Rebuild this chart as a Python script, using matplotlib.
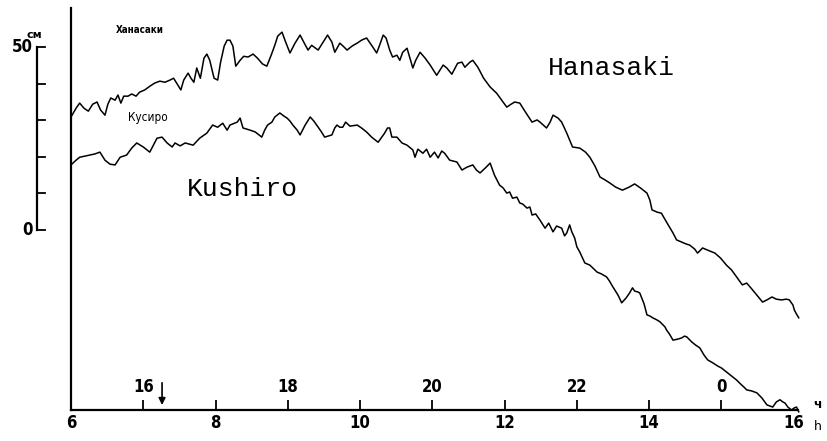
import matplotlib
matplotlib.use("Agg")
import matplotlib.pyplot as plt

# Мареограммы: Ханасаки и Кусиро (время в часах, уровень в см)
hanasaki_t = [
    6.00, 6.07, 6.12, 6.18, 6.24, 6.30, 6.36, 6.41, 6.47, 6.51, 6.55, 6.61, 6.65, 6.69,
    6.73, 6.79, 6.84, 6.90, 6.95, 7.02, 7.09, 7.16, 7.23, 7.30, 7.37, 7.42, 7.48, 7.52,
    7.56, 7.62, 7.66, 7.70, 7.74, 7.79, 7.84, 7.88, 7.92, 7.98, 8.03, 8.07, 8.12, 8.16,
    8.20, 8.24, 8.28, 8.34, 8.39, 8.45, 8.52, 8.58, 8.65, 8.71, 8.77, 8.82, 8.86, 8.92,
    8.97, 9.03, 9.10, 9.17, 9.22, 9.28, 9.33, 9.42, 9.49, 9.55, 9.61, 9.65, 9.72, 9.78,
    9.82, 9.89, 9.96, 10.02, 10.09, 10.16, 10.23, 10.27, 10.32, 10.36, 10.41, 10.45,
    10.51, 10.55, 10.59, 10.65, 10.69, 10.73, 10.77, 10.83, 10.90, 10.97, 11.06, 11.15,
    11.20, 11.27, 11.35, 11.41, 11.45, 11.52, 11.56, 11.63, 11.71, 11.80, 11.89, 11.96,
    12.03, 12.09, 12.14, 12.21, 12.29, 12.38, 12.45, 12.49, 12.58, 12.63, 12.67, 12.74,
    12.79, 12.86, 12.94, 13.04, 13.12, 13.18, 13.25, 13.32, 13.39, 13.46, 13.54, 13.63,
    13.72, 13.80, 13.88, 13.97, 14.01, 14.04, 14.11, 14.17, 14.24, 14.33, 14.38, 14.45,
    14.51, 14.56, 14.63, 14.67, 14.74, 14.81, 14.91, 14.99, 15.07, 15.14, 15.21, 15.29,
    15.35, 15.42, 15.49, 15.57, 15.63, 15.70, 15.76, 15.83, 15.90, 15.94, 15.99, 16.01,
    16.04, 16.07,
]
hanasaki_cm = [
    30.9, 33.3, 34.7, 33.3, 32.5, 34.4, 35.0, 32.8, 31.4, 34.4, 36.1, 35.5, 36.9, 34.7,
    36.6, 36.6, 37.2, 36.6, 37.7, 38.3, 39.3, 40.2, 40.7, 40.4, 41.0, 41.5, 39.6, 38.3,
    41.0, 42.9, 41.5, 40.4, 44.3, 41.5, 47.0, 48.1, 46.4, 41.5, 41.0, 45.9, 50.3, 51.9,
    51.9, 50.3, 44.8, 46.4, 47.5, 47.3, 48.1, 47.0, 45.4, 44.8, 47.8, 50.5, 53.0, 54.1,
    51.4, 48.4, 51.1, 53.3, 51.4, 49.2, 50.5, 49.2, 51.4, 53.3, 51.4, 48.6, 51.1, 50.0,
    49.2, 50.3, 51.1, 51.9, 52.5, 50.5, 48.4, 50.5, 53.3, 52.5, 49.2, 47.3,
    47.8, 46.4, 48.6, 49.7, 47.0, 44.3, 46.4, 48.6, 47.0, 45.1, 42.3, 45.1,
    44.3, 42.6, 45.6, 45.9, 44.5, 45.9, 46.4, 44.5, 41.5, 39.1, 37.4, 35.5,
    33.6, 34.4, 35.0, 34.7, 32.2, 29.5, 30.1, 29.5, 27.9, 29.5, 31.4, 30.6,
    29.5, 26.5, 22.7, 22.4, 21.3, 19.9, 17.5, 14.5, 13.7, 12.8, 11.7, 10.9,
    11.7, 12.6, 11.5, 10.1, 8.2, 5.5, 4.9, 4.6, 2.2, -0.8, -2.7, -3.3,
    -3.8, -4.1, -5.2, -6.3, -4.9, -5.5, -6.3, -7.7, -9.6, -10.9, -12.8, -15.0,
    -14.5, -16.1, -17.8, -19.7, -19.1, -18.3, -18.9, -19.1, -18.9, -19.1, -20.5, -21.9,
    -23.0, -24.0,
]

kushiro_t = [
    6.00, 6.07, 6.12, 6.19, 6.26, 6.33, 6.40, 6.47, 6.54, 6.61, 6.68, 6.77, 6.84, 6.91,
    7.00, 7.09, 7.19, 7.26, 7.33, 7.40, 7.44, 7.51, 7.58, 7.69, 7.78, 7.88, 7.96, 8.03,
    8.10, 8.16, 8.20, 8.30, 8.34, 8.38, 8.48, 8.55, 8.64, 8.68, 8.72, 8.78, 8.82, 8.89,
    8.95, 8.99, 9.03, 9.07, 9.13, 9.17, 9.24, 9.31, 9.36, 9.40, 9.46, 9.51, 9.61, 9.65,
    9.68, 9.72, 9.76, 9.80, 9.86, 9.96, 10.02, 10.09, 10.16, 10.25, 10.30, 10.34, 10.38,
    10.41, 10.44, 10.51, 10.58, 10.65, 10.73, 10.76, 10.80, 10.87, 10.92, 10.97, 11.03,
    11.08, 11.13, 11.17, 11.24, 11.34, 11.41, 11.48, 11.56, 11.61, 11.66, 11.73, 11.80,
    11.86, 11.93, 11.98, 12.03, 12.07, 12.11, 12.17, 12.21, 12.25, 12.31, 12.35, 12.38,
    12.43, 12.49, 12.56, 12.61, 12.67, 12.72, 12.79, 12.83, 12.86, 12.90, 12.93, 12.97,
    13.00, 13.04, 13.11, 13.18, 13.28, 13.34, 13.41, 13.45, 13.50, 13.57, 13.62, 13.68,
    13.73, 13.77, 13.80, 13.84, 13.87, 13.93, 13.97, 14.01, 14.05, 14.11, 14.15, 14.22,
    14.24, 14.28, 14.33, 14.40, 14.45, 14.49, 14.52, 14.59, 14.64, 14.70, 14.76, 14.81,
    14.88, 14.95, 15.00, 15.09, 15.16, 15.21, 15.25, 15.31, 15.35, 15.42, 15.49, 15.56,
    15.63, 15.67, 15.71, 15.76, 15.81, 15.85, 15.88, 15.92, 15.97, 16.01, 16.04, 16.07,
]
kushiro_cm = [
    17.8, 19.1, 19.9, 20.2, 20.5, 20.8, 21.3, 19.1, 18.0, 17.8, 19.9, 20.5, 22.4, 23.8,
    22.7, 21.3, 25.1, 25.4, 23.8, 22.7, 23.8, 23.0, 23.8, 23.2, 25.1, 26.5, 28.7, 28.1,
    29.2, 27.3, 28.7, 29.5, 30.6, 27.9, 27.3, 26.8, 25.4, 27.3, 28.7, 29.5, 30.9, 32.0,
    31.1, 30.6, 29.8, 28.7, 27.3, 26.0, 28.7, 30.9, 29.8, 28.7, 27.0, 25.4, 26.0, 27.9,
    28.7, 28.1, 28.1, 29.5, 28.4, 28.7, 27.9, 26.8, 25.4, 24.0, 25.4, 26.5, 27.9,
    27.9, 25.4, 25.4, 23.8, 23.2, 21.9, 19.9, 22.1, 21.0, 22.1, 19.9, 21.3,
    19.7, 21.6, 21.0, 19.1, 18.6, 16.4, 17.2, 17.8, 16.4, 15.6, 16.9, 18.3,
    15.0, 12.3, 11.5, 10.1, 10.4, 8.7, 9.0, 7.4, 7.1, 6.0, 6.3, 4.1,
    4.4, 2.7, 0.5, 1.9, -0.5, 1.1, 0.5, -1.6, -0.8, 1.4, -0.5, -2.2,
    -4.6, -6.0, -9.0, -9.6, -11.5, -12.0, -12.8, -13.9, -15.6, -17.8, -19.9, -18.6,
    -17.2, -15.8, -16.7, -16.9, -17.2, -20.2, -23.2, -23.5, -24.0, -24.6, -25.1, -26.5,
    -27.3, -28.4, -30.1, -29.8, -29.5, -29.0, -29.2, -30.6, -31.4, -32.2, -34.2, -35.5,
    -36.3, -37.2, -37.7, -39.1, -40.2, -41.0, -41.8, -42.9, -43.7, -44.0, -44.5, -45.9,
    -47.8, -48.1, -48.4, -47.0, -46.4, -47.0, -47.3, -48.4, -49.2, -48.6, -48.4, -49.7,
]

# Шкала времени: нижняя (часы) и верхняя (сдвинутая на 9 ч)
lower_ticks = [8, 10, 12, 14]
lower_labels = ["6", "8", "10", "12", "14", "16"]
lower_label_pos = [6, 8, 10, 12, 14, 16]
upper_ticks = [7, 9, 11, 13, 15]
upper_labels = ["16", "18", "20", "22", "0"]
arrow_t = 7.26

scale_ticks = [0, 10, 20, 30, 40, 50]

X0, X1 = 6.0, 16.06
Y0, Y1 = -49.2, 60.7

fig = plt.figure(figsize=(8.27, 4.41), dpi=100)
ax = fig.add_axes([71 / 827, 31 / 441, 727 / 827, 402 / 441])
ax.set_xlim(X0, X1)
ax.set_ylim(Y0, Y1)

ax.plot(hanasaki_t, hanasaki_cm, color="black", lw=1.1, clip_on=False)
ax.plot(kushiro_t, kushiro_cm, color="black", lw=1.1, clip_on=False)

for s in ["top", "right"]:
    ax.spines[s].set_visible(False)
ax.spines["left"].set_linewidth(1.6)
ax.spines["bottom"].set_linewidth(1.6)
ax.set_yticks([])

digit_font = dict(family="DejaVu Sans", fontstretch="condensed", fontweight="bold",
                  fontsize=12)

ax.set_xticks(lower_ticks + upper_ticks)
ax.set_xticklabels([""] * (len(lower_ticks) + len(upper_ticks)))
ax.tick_params(axis="x", direction="in", length=7.5, width=1.3, color="black")

for pos, lab in zip(lower_label_pos, lower_labels):
    ax.text(pos, Y0 - 3.6, lab, ha="center", va="center", **digit_font)
for pos, lab in zip(upper_ticks, upper_labels):
    ax.text(pos, Y0 + 6.3, lab, ha="center", va="center", **digit_font)

# стрелка — момент толчка
ax.annotate("", xy=(arrow_t, Y0 + 0.6), xytext=(arrow_t, Y0 + 8.2),
            arrowprops=dict(arrowstyle="-|>", color="black", lw=1.2,
                            mutation_scale=10))

# шкала уровня, см
sx = 6 + (37 - 71) / 72.3
sx2 = 6 + (45 - 71) / 72.3
ax.plot([sx, sx], [scale_ticks[0], scale_ticks[-1]], color="black", lw=1.6,
        clip_on=False)
for v in scale_ticks:
    ax.plot([sx, sx2], [v, v], color="black", lw=1.3, clip_on=False)
ax.text(sx - 0.06, 50, "50", ha="right", va="center", **digit_font)
ax.text(sx - 0.06, 0, "0", ha="right", va="center", **digit_font)
ax.text(sx - 0.03, 53.4, "см", ha="center", va="center", family="DejaVu Sans",
        fontweight="bold", fontsize=8)

# подписи кривых
ax.text(6.95, 54.6, "Ханасаки", ha="center", va="center", family="DejaVu Sans",
        fontstretch="condensed", fontweight="bold", fontsize=7)
ax.text(7.07, 30.9, "Кусиро", ha="center", va="center", family="DejaVu Sans",
        fontstretch="condensed", fontsize=8.5)
ax.text(13.48, 44.3, "Hanasaki", ha="center", va="center", family="Liberation Mono",
        fontsize=19)
ax.text(8.37, 11.2, "Kushiro", ha="center", va="center", family="Liberation Mono",
        fontsize=19)

fig.text(818 / 827, 1 - 404 / 441, "ч", ha="center", va="center",
         family="DejaVu Sans", fontweight="bold", fontsize=9)
fig.text(818 / 827, 1 - 426 / 441, "h", ha="center", va="center",
         family="DejaVu Sans", fontsize=9)

fig.savefig("out.png", dpi=100)
